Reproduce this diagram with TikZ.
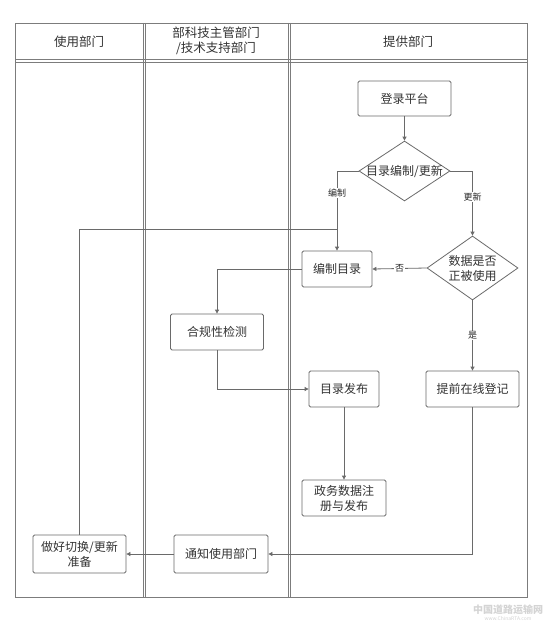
\documentclass[tikz,border=0pt]{standalone}
\usepackage{fontspec}
\setmainfont{Noto Sans CJK SC}
\usetikzlibrary{shapes.geometric,arrows.meta}
\definecolor{ln}{HTML}{6A6A6A}
\definecolor{frm}{HTML}{7C7C7C}
\definecolor{wm}{HTML}{D4D4D4}
\begin{document}
\begin{tikzpicture}[x=1pt,y=-1pt,
  box/.style={draw=ln, rounded corners=1.5pt, line width=0.8pt, minimum height=36pt,
    inner sep=0pt, align=center, font=\fontsize{12}{15}\selectfont, text=black!80},
  dia/.style={draw=ln, diamond, line width=0.8pt, inner sep=0pt},
  dtext/.style={font=\fontsize{12}{15}\selectfont, align=center, text=black!80},
  hdr/.style={font=\fontsize{12.5}{15}\selectfont, align=center, text=black!80},
  lbl/.style={font=\fontsize{9}{10}\selectfont, fill=white, inner sep=1pt, text=black!85},
  conn/.style={draw=ln, line width=0.8pt},
  arr/.style={conn, -{Triangle[length=4pt,width=4pt]}},
  frame/.style={draw=frm, line width=0.9pt}]
\useasboundingbox (0,0) rectangle (550,623);
\fill[white] (0,0) rectangle (550,623);

% swimlane frame
\draw[frame] (15,23) rectangle (527,597);
\draw[frame] (15,59.5) -- (527,59.5);
\draw[frame] (15,62) -- (527,62);
\draw[frame] (143.3,23) -- (143.3,597);
\draw[frame] (145,23) -- (145,597);
\draw[frame] (288.3,23) -- (288.3,597);
\draw[frame] (290,23) -- (290,597);

\node[hdr] (h1) at (79,42) {使用部门};
\node[hdr] (h2) at (216,41) {部科技主管部门\\/技术支持部门};
\node[hdr] (h3) at (408,42) {提供部门};

% nodes
\node[box, minimum width=93pt, minimum height=35pt] (login) at (404.5,98.5) {登录平台};
\node[dia, minimum width=91pt, minimum height=60pt] (d1) at (404.5,171) {};
\node[dtext] (d1t) at (d1) {目录编制/更新};
\node[box, minimum width=70pt] (bz) at (337,269) {编制目录};
\node[dia, minimum width=91pt, minimum height=64pt] (d2) at (472.5,268) {};
\node[dtext] (d2t) at (d2) {数据是否\\正被使用};
\node[box, minimum width=93pt] (hg) at (217,332) {合规性检测};
\node[box, minimum width=70pt] (fb) at (344,389) {目录发布};
\node[box, minimum width=93pt] (tq) at (472.5,389) {提前在线登记};
\node[box, minimum width=84pt] (zw) at (344,498) {政务数据注\\册与发布};
\node[box, minimum width=93pt, minimum height=38pt] (zh) at (79.5,554) {做好切换/更新\\准备};
\node[box, minimum width=94pt, minimum height=38pt] (tz) at (221,554) {通知使用部门};
\coordinate (j1) at (337,229);

% connectors
\draw[arr] (login.south) -- (d1.north);
\draw[arr] (d1.west) -| node[lbl, pos=0.64] {编制} (bz.north);
\draw[arr] (d1.east) -| node[lbl, pos=0.7] {更新} (d2.north);
\draw[arr] (d2.west) -- node[lbl] {否} (bz.east);
\draw[conn] (zh.north) |- (j1);
\draw[arr] (bz.west) -| (hg.north);
\draw[arr] (hg.south) |- (fb.west);
\draw[arr] (fb.south) -- (zw.north);
\draw[arr] (d2.south) -- node[lbl] {是} (tq.north);
\draw[arr] (tq.south) |- (tz.east);
\draw[arr] (tz.west) -- (zh.east);

% watermark
\node[font=\bfseries\fontsize{10}{11}\selectfont, text=wm, inner sep=0pt] (wm1) at (508,610) {中国道路运输网};
\node[font=\fontsize{5}{6}\selectfont, text=wm, inner sep=0pt] (wm2) at (508,619) {www.ChinaRTA.com};
\end{tikzpicture}
\end{document}
